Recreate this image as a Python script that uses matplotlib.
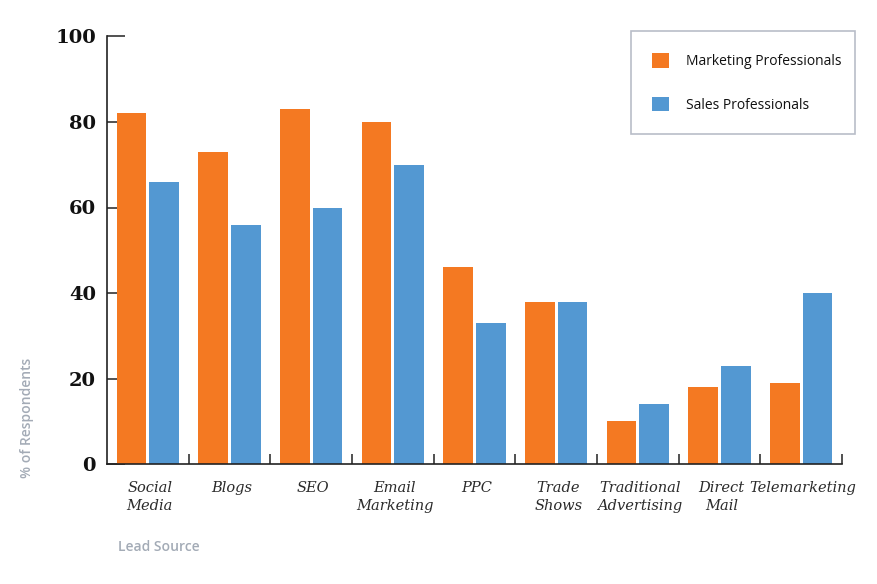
import numpy as np
import matplotlib
matplotlib.use("Agg")
import matplotlib.pyplot as plt
import matplotlib.transforms as mtransforms
from matplotlib.patches import Rectangle

# lead source survey data (% of respondents)
sources = ['Social\nMedia', 'Blogs', 'SEO', 'Email\nMarketing', 'PPC',
           'Trade\nShows', 'Traditional\nAdvertising', 'Direct\nMail', 'Telemarketing']
marketing = [82, 73, 83, 80, 46, 38, 10, 18, 19]
sales = [66, 56, 60, 70, 33, 38, 14, 23, 40]
y_ticks = [0, 20, 40, 60, 80, 100]

ORANGE = '#F47922'
BLUE = '#5398D2'
DARK = '#222222'
GREY = '#A3ABB6'

fig = plt.figure(figsize=(8.78, 5.84), dpi=100)
ax = fig.add_axes([107/878, 1 - 464/584, (842 - 107)/878, (464 - 36.5)/584])

x = np.arange(len(sources))
w = 0.367
ax.bar(x - 0.2, marketing, w, color=ORANGE, label='Marketing Professionals', zorder=3)
ax.bar(x + 0.2, sales, w, color=BLUE, label='Sales Professionals', zorder=3)

ax.set_xlim(-0.5, len(sources) - 0.5)
ax.set_ylim(0, 100)

# spines
for s in ['top', 'right']:
    ax.spines[s].set_visible(False)
for s in ['left', 'bottom']:
    ax.spines[s].set_color(DARK)
    ax.spines[s].set_linewidth(1.2)
    ax.spines[s].set_zorder(4)

# y ticks: inward, bold serif
ax.set_yticks(y_ticks)
ax.tick_params(axis='y', direction='in', length=13, width=1.1, color=DARK, pad=8)
for lab in ax.get_yticklabels():
    lab.set_fontfamily('DejaVu Serif')
    lab.set_fontweight('bold')
    lab.set_fontsize(14)
    lab.set_color('#111111')

# x: labels on major ticks (no marks), group separators as minor ticks
ax.set_xticks(x)
ax.set_xticklabels(sources, fontfamily='DejaVu Serif', fontstyle='italic',
                   fontsize=10.5, color='#2b2b2b', linespacing=1.4)
ax.tick_params(axis='x', which='major', length=0, pad=12)
ax.set_xticks(np.arange(len(sources)) + 0.5, minor=True)
ax.tick_params(axis='x', which='minor', direction='in', length=7.5, width=1.1, color=DARK)
shift = mtransforms.ScaledTranslation(2/100, 0, fig.dpi_scale_trans)
for lab in ax.get_xticklabels():
    lab.set_transform(lab.get_transform() + shift)

# axis titles
fig.text(27/878, 1 - 418/584, '% of Respondents', rotation=90, ha='center', va='center',
         fontfamily='Open Sans', fontweight='semibold', fontsize=10, color=GREY)
fig.text(159/878, 1 - 547/584, 'Lead Source', ha='center', va='center',
         fontfamily='Open Sans', fontweight='semibold', fontsize=10, color=GREY)

# legend (box drawn separately)
leg = ax.legend(loc='upper left', bbox_to_anchor=(652/878, 1 - 53/584),
                bbox_transform=fig.transFigure, borderaxespad=0, borderpad=0,
                prop={'family': 'Open Sans', 'size': 10},
                handlelength=1.25, handleheight=1.25, handletextpad=1.2,
                labelspacing=2.0, frameon=False)
for t in leg.get_texts():
    t.set_color('#111111')
fig.patches.append(Rectangle((631/878, 1 - 134/584), (855 - 631)/878, (134 - 31)/584,
                             transform=fig.transFigure, facecolor='none',
                             edgecolor='#B9BDC8', linewidth=1.2))

fig.savefig('out.png', dpi=100)
